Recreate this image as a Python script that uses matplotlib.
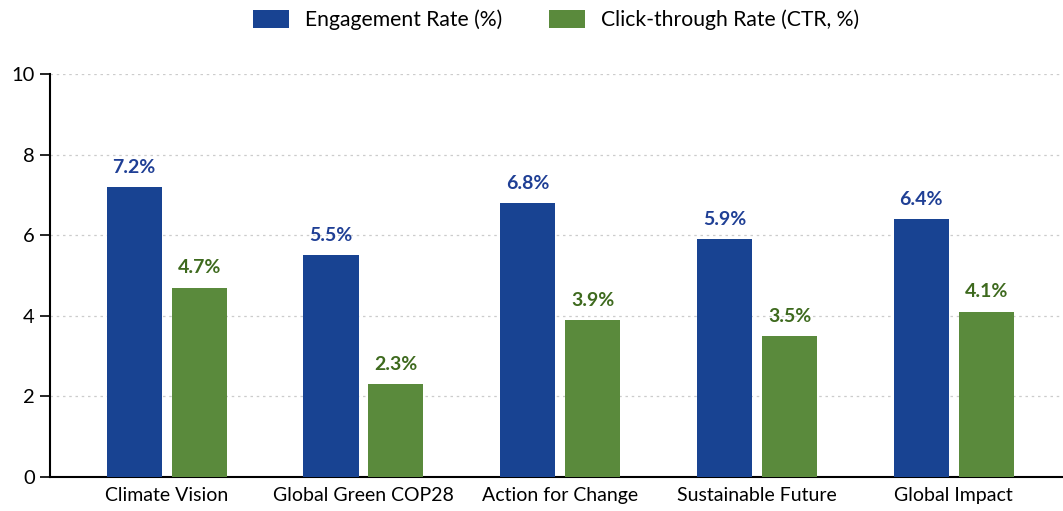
import matplotlib.pyplot as plt
import numpy as np

plt.rcParams['font.family'] = ['Lato', 'DejaVu Sans']

campaigns = ['Climate Vision', 'Global Green COP28', 'Action for Change', 'Sustainable Future', 'Global Impact']
engagement = [7.2, 5.5, 6.8, 5.9, 6.4]
ctr = [4.7, 2.3, 3.9, 3.5, 4.1]
yticks = [0, 2, 4, 6, 8, 10]

blue = '#184392'
green = '#5a8a3c'
blue_txt = '#1f3f95'
green_txt = '#3e6a1e'

fig = plt.figure(figsize=(10.63, 5.11), dpi=100)
ax = fig.add_axes([50 / 1063, 34 / 511, 1 - 50 / 1063, (477 - 74) / 511])

x = np.arange(len(campaigns))
w = 0.28
off = 0.165
b1 = ax.bar(x - off, engagement, w, color=blue, label='Engagement Rate (%)', zorder=3)
b2 = ax.bar(x + off, ctr, w, color=green, label='Click-through Rate (CTR, %)', zorder=3)

for rect, v in zip(b1, engagement):
    ax.text(rect.get_x() + rect.get_width() / 2, v + 0.28, f'{v:.1f}%', ha='center', va='bottom',
            fontsize=14, fontweight='bold', color=blue_txt)
for rect, v in zip(b2, ctr):
    ax.text(rect.get_x() + rect.get_width() / 2, v + 0.28, f'{v:.1f}%', ha='center', va='bottom',
            fontsize=14, fontweight='bold', color=green_txt)

ax.set_xlim(-0.593, 4.555)
ax.set_ylim(0, 10)
ax.set_yticks(yticks)
ax.set_xticks(x)
ax.set_xticklabels(campaigns)
ax.tick_params(axis='x', length=0, pad=7, labelsize=14)
ax.tick_params(axis='y', length=7, width=1.2, labelsize=14.5, pad=4)
ax.yaxis.grid(True, linestyle=(0, (2, 3)), color='#cccccc', linewidth=0.9, zorder=0)
for s in ['top', 'right']:
    ax.spines[s].set_visible(False)
ax.spines['left'].set_linewidth(1.5)
ax.spines['bottom'].set_linewidth(1.5)

fig.legend(loc='center', bbox_to_anchor=(556 / 1063, 1 - 20 / 511), ncol=2, frameon=False, fontsize=15.2,
           handlelength=1.7, handleheight=0.95, columnspacing=2.2, handletextpad=0.75,
           borderpad=0)

fig.savefig('out.png', dpi=100)
